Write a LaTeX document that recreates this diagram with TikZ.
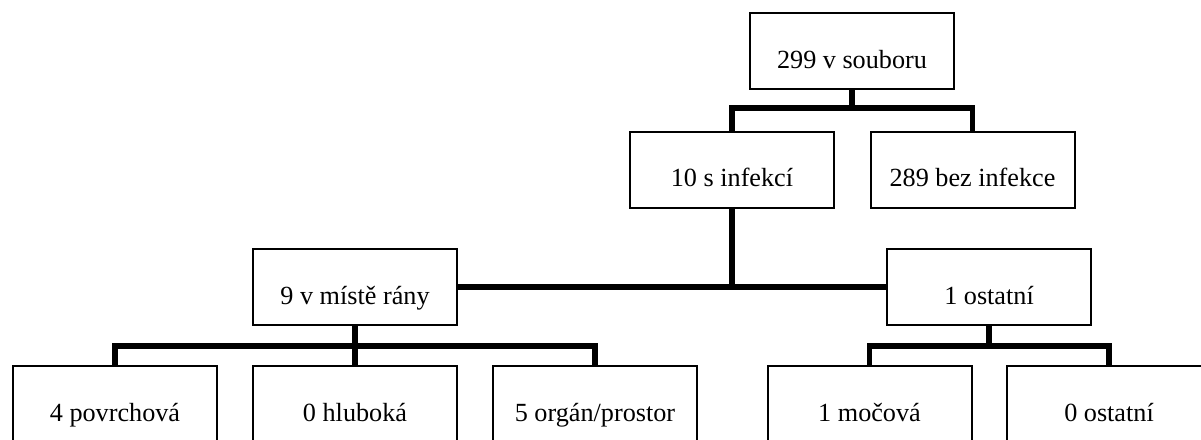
\documentclass[tikz,border=0pt]{standalone}
\usepackage{fontspec}
\setmainfont{Liberation Serif}
\begin{document}
\begin{tikzpicture}[x=1pt,y=-1pt,
  box/.style={draw, line width=2pt, fill=white, minimum width=204pt, minimum height=76pt,
    inner sep=0pt, text height=34pt, text depth=0pt,
    font=\fontsize{26.2}{30}\selectfont},
  conn/.style={line width=5.5pt}]
\clip (0,0) rectangle (1201,439);
\fill[white] (0,0) rectangle (1201,439);
\node[box] (top)   at (852,51)    {299 v souboru};
\node[box] (inf)   at (732,169.5) {10 s infekcí};
\node[box] (noinf) at (972.5,169.5) {289 bez infekce};
\node[box] (wound) at (355,287)   {9 v místě rány};
\node[box] (other) at (989,287)   {1 ostatní};
\node[box] (b1) at (115,404)   {4 povrchová};
\node[box] (b2) at (355,404)   {0 hluboká};
\node[box] (b3) at (595,404)   {5 orgán/prostor};
\node[box] (b4) at (869.5,404) {1 močová};
\node[box] (b5) at (1109,404)  {0 ostatní};
\draw[conn] (top.south) -- ++(0,18) -| (inf.north);
\draw[conn] (top.south) -- ++(0,18) -| (noinf.north);
\draw[conn] (inf.south) -- (inf.south |- wound.east);
\draw[conn] (wound.east) -- (other.west);
\draw[conn] (wound.south) -- ++(0,20) -| (b1.north);
\draw[conn] (wound.south) -- ++(0,20) -| (b3.north);
\draw[conn] (wound.south) -- (b2.north);
\draw[conn] (other.south) -- ++(0,20) -| (b4.north);
\draw[conn] (other.south) -- ++(0,20) -| (b5.north);
\end{tikzpicture}
\end{document}
